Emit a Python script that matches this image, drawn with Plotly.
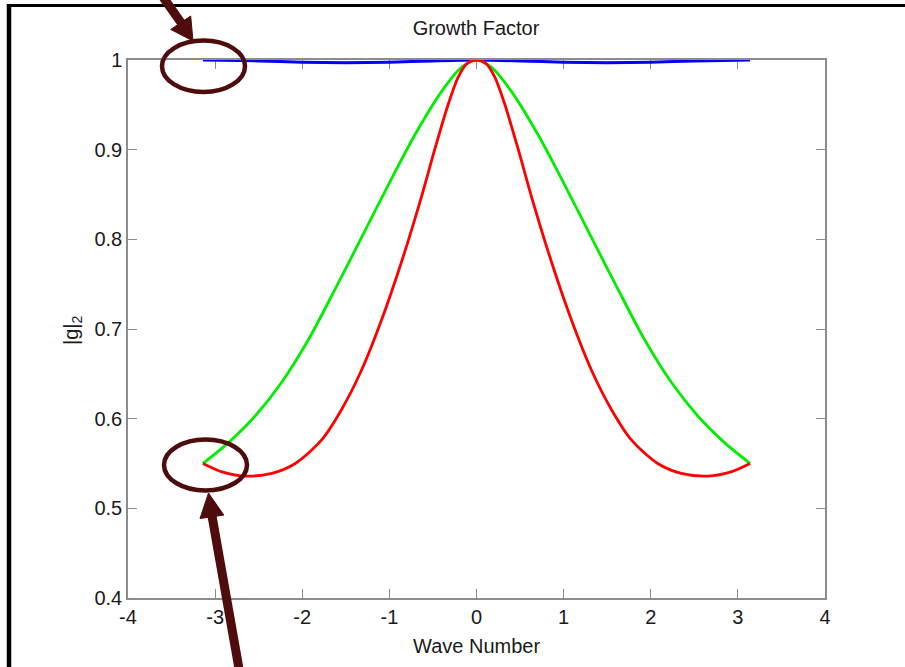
import plotly.graph_objects as go

# Wave numbers and |g|_2 for each scheme
green_k = [-3.14, -2.85, -2.54, -2.24, -1.93, -1.62, -1.32, -1.01, -0.71, -0.40, -0.17, 0.0,
           0.17, 0.40, 0.71, 1.01, 1.32, 1.62, 1.93, 2.24, 2.54, 2.85, 3.14]
green_g = [0.550, 0.573, 0.603, 0.640, 0.688, 0.745, 0.802, 0.861, 0.916, 0.965, 0.992, 1.000,
           0.992, 0.965, 0.916, 0.861, 0.802, 0.745, 0.688, 0.640, 0.603, 0.573, 0.550]

red_k = [-3.14, -2.93, -2.66, -2.35, -2.08, -1.78, -1.55, -1.32, -1.09, -0.86, -0.63, -0.48,
         -0.32, -0.21, -0.11, 0.0, 0.11, 0.21, 0.32, 0.48, 0.63, 0.86, 1.09, 1.32, 1.55,
         1.78, 2.08, 2.35, 2.66, 2.93, 3.14]
red_g = [0.550, 0.541, 0.536, 0.539, 0.550, 0.576, 0.610, 0.654, 0.710, 0.775, 0.848, 0.900,
         0.952, 0.981, 0.996, 1.000, 0.996, 0.981, 0.952, 0.900, 0.848, 0.775, 0.710, 0.654,
         0.610, 0.576, 0.550, 0.539, 0.536, 0.541, 0.550]

blue_k = [-3.14, -2.5, -2.0, -1.5, -1.0, -0.5, 0.0, 0.5, 1.0, 1.5, 2.0, 2.5, 3.14]
blue_g = [1.000, 0.999, 0.9975, 0.997, 0.9975, 0.999, 1.000, 0.999, 0.9975, 0.997, 0.9975, 0.999, 1.000]

x_ticks = [-4, -3, -2, -1, 0, 1, 2, 3, 4]
y_ticks = [0.4, 0.5, 0.6, 0.7, 0.8, 0.9, 1.0]
y_tick_text = ["0.4", "0.5", "0.6", "0.7", "0.8", "0.9", "1"]

FONT = "Liberation Sans, Arial, sans-serif"
MAROON = "#4e0c0c"
AXIS_GRAY = "#8c8c8c"

# plot-area geometry in pixels
W_FIG, H_FIG = 905, 667
L, R, T, B = 128, 825, 60, 598


def px(xp):
    return (xp - L) / (R - L)


def py(yp):
    return (B - yp) / (B - T)


fig = go.Figure()
fig.add_trace(go.Scatter(x=blue_k, y=blue_g, mode="lines",
                         line=dict(color="#0000ff", width=3, shape="spline", smoothing=0.8),
                         showlegend=False))
fig.add_trace(go.Scatter(x=green_k, y=green_g, mode="lines",
                         line=dict(color="#00ee00", width=2.8, shape="spline", smoothing=0.8),
                         showlegend=False))
fig.add_trace(go.Scatter(x=red_k, y=red_g, mode="lines",
                         line=dict(color="#ff0000", width=2.8, shape="spline", smoothing=0.8),
                         showlegend=False))

axis_common = dict(
    showline=True, linecolor=AXIS_GRAY, linewidth=1.5, mirror="ticks",
    ticks="inside", ticklen=9, tickcolor=AXIS_GRAY, tickwidth=1,
    showgrid=False, zeroline=False, layer="below traces",
    tickfont=dict(family=FONT, size=20, color="#1a1a1a"),
)

fig.update_xaxes(range=[-4, 4], tickvals=x_ticks, ticktext=[str(v) for v in x_ticks], **axis_common)
fig.update_yaxes(range=[0.4, 1.0], tickvals=y_ticks, ticktext=y_tick_text, **axis_common)

shapes = []
# image frame (top and left)
shapes.append(dict(type="line", xref="paper", yref="paper", x0=px(7), x1=px(905), y0=py(5.5), y1=py(5.5),
                   line=dict(color="black", width=3)))
shapes.append(dict(type="line", xref="paper", yref="paper", x0=px(9), x1=px(9), y0=py(4), y1=py(670),
                   line=dict(color="black", width=4.5)))

# highlight ellipses
for (x0, x1, y0, y1) in [(162, 245, 40.5, 92), (164, 247, 439.5, 490.5)]:
    shapes.append(dict(type="circle", xref="paper", yref="paper", x0=px(x0), x1=px(x1), y0=py(y1), y1=py(y0),
                       line=dict(color=MAROON, width=4.5), layer="above"))

# arrows pointing at the ellipses: shaft + head
arrows = [
    # (shaft start, shaft end, tip, head corner a, head corner b)
    ((158, -10), (182, 24), (193, 41), (190.7, 16), (170.7, 29.4)),
    ((241, 680), (212, 516), (208.5, 493), (223.8, 515.1), (200.0, 518.5)),
]
for (s0, s1, tip, ca, cb) in arrows:
    shapes.append(dict(type="line", xref="paper", yref="paper", x0=px(s0[0]), y0=py(s0[1]),
                       x1=px(s1[0]), y1=py(s1[1]), line=dict(color=MAROON, width=9), layer="above"))
    path = "M {} {} L {} {} L {} {} Z".format(px(tip[0]), py(tip[1]), px(ca[0]), py(ca[1]), px(cb[0]), py(cb[1]))
    shapes.append(dict(type="path", xref="paper", yref="paper", path=path, fillcolor=MAROON,
                       line=dict(color=MAROON, width=1), layer="above"))

annotations = [
    dict(text="Wave Number", xref="paper", yref="paper", x=px(476), y=py(646), showarrow=False,
         xanchor="center", yanchor="middle", font=dict(family=FONT, size=20, color="#1a1a1a")),
    dict(text="|g|<sub>2</sub>", xref="paper", yref="paper", x=px(72), y=py(330), showarrow=False,
         textangle=-90, xanchor="center", yanchor="middle", font=dict(family=FONT, size=20, color="#1a1a1a")),
]

fig.update_layout(
    width=W_FIG, height=H_FIG,
    margin=dict(l=L, r=W_FIG - R, t=T, b=H_FIG - B),
    paper_bgcolor="white", plot_bgcolor="white",
    title=dict(text="Growth Factor", x=476 / W_FIG, xanchor="center",
               y=1 - 28 / H_FIG, yanchor="middle", font=dict(family=FONT, size=20, color="#1a1a1a")),
    shapes=shapes, annotations=annotations, showlegend=False,
)

fig.write_html("out.html")
